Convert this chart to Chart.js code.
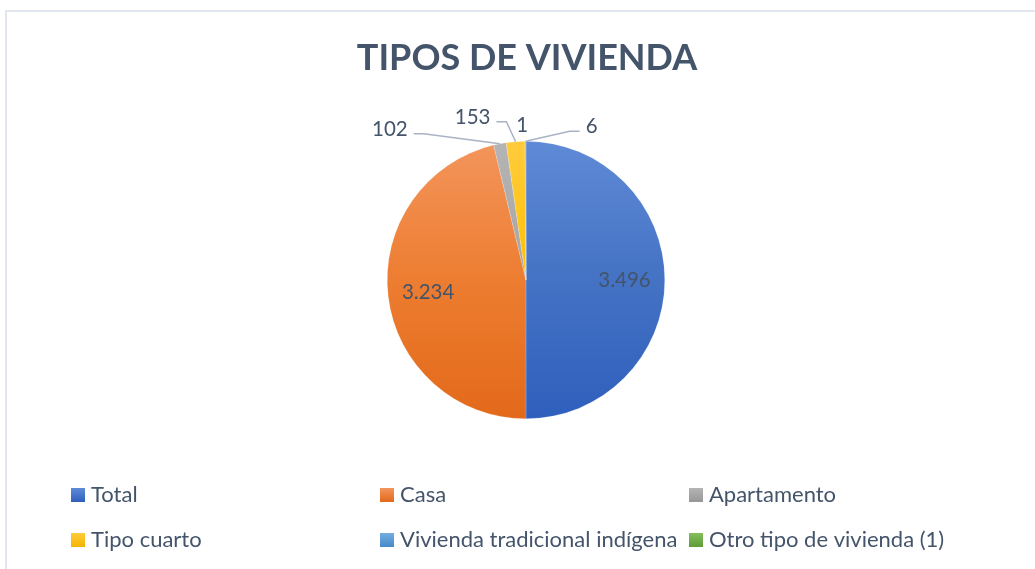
<!DOCTYPE html>
<html>
<head>
<meta charset="utf-8">
<script src="https://cdn.jsdelivr.net/npm/chart.js@4/dist/chart.umd.min.js"></script>
<style>
  html, body { margin: 0; background: #fff; }
  #wrap { position: relative; width: 1035px; height: 569px; }
</style>
</head>
<body>
<div id="wrap"><canvas id="chartPie"></canvas></div>
<script>
// datos
const categorias = ['Total', 'Casa', 'Apartamento', 'Tipo cuarto', 'Vivienda tradicional indígena', 'Otro tipo de vivienda (1)'];
const viviendas = [3496, 3234, 102, 153, 1, 6];
const etiquetas = ['3.496', '3.234', '102', '153', '1', '6'];

// estilos
const colorBase = ['#4472C4', '#ED7D31', '#A5A5A5', '#FFC000', '#5B9BD5', '#70AD47'];
const colorClaro = ['#5F8AD6', '#F3955C', '#B4B4B4', '#FFCB3D', '#74ADE0', '#84BE5E'];
const colorOscuro = ['#2F5FBD', '#E3691A', '#979797', '#F2B600', '#4589C9', '#5E9C37'];
const textColor = '#44546A';
const fuente = 'Lato, "Open Sans", sans-serif';

// posicion de etiquetas fuera del pastel (desplazamiento desde el borde)
const posEtiqueta = [
  null,
  null,
  { dx: -110, dy: -15, linea: true },
  { dx: -43, dy: -25, linea: true },
  { dx: -3, dy: -16, linea: false },
  { dx: 66, dy: -15, linea: true }
];

function gradiente(ctx, i) {
  const area = ctx.chart.chartArea;
  if (!area) return colorBase[i];
  const g = ctx.chart.ctx.createLinearGradient(0, area.top, 0, area.bottom);
  g.addColorStop(0, colorClaro[i]);
  g.addColorStop(0.5, colorBase[i]);
  g.addColorStop(1, colorOscuro[i]);
  return g;
}

const decoracion = {
  id: 'decoracion',
  beforeDraw(chart) {
    const c = chart.ctx;
    c.save();
    c.strokeStyle = '#E1E5EE';
    c.lineWidth = 2;
    c.beginPath();
    c.moveTo(6, 569);
    c.lineTo(6, 11);
    c.lineTo(1035, 11);
    c.stroke();
    c.restore();
  },
  afterDatasetsDraw(chart) {
    const c = chart.ctx;
    const meta = chart.getDatasetMeta(0);
    c.save();
    c.font = '20.5px ' + fuente;
    c.fillStyle = textColor;
    c.textAlign = 'center';
    c.textBaseline = 'alphabetic';
    meta.data.forEach((arc, i) => {
      const p = arc.getProps(['x', 'y', 'startAngle', 'endAngle', 'outerRadius'], true);
      const mid = (p.startAngle + p.endAngle) / 2;
      const cfg = posEtiqueta[i];
      if (!cfg) {
        const r = p.outerRadius * 0.71;
        c.fillText(etiquetas[i], p.x + Math.cos(mid) * r, p.y + Math.sin(mid) * r + 7);
        return;
      }
      const ax = p.x + Math.cos(mid) * p.outerRadius;
      const ay = p.y + Math.sin(mid) * p.outerRadius;
      const lx = ax + cfg.dx;
      const ly = ay + cfg.dy;
      c.fillText(etiquetas[i], lx, ly + 7);
      if (cfg.linea) {
        const w = c.measureText(etiquetas[i]).width;
        const dir = cfg.dx < 0 ? 1 : -1;
        const sx = lx + dir * (w / 2 + 6);
        const sy = ly + 5;
        c.save();
        c.strokeStyle = '#A9B3C4';
        c.lineWidth = 1.5;
        c.beginPath();
        c.moveTo(sx, sy);
        c.lineTo(sx + dir * 10, sy);
        c.lineTo(ax, ay);
        c.stroke();
        c.restore();
      }
    });
    c.restore();
  },
  afterDraw(chart) {
    const c = chart.ctx;
    c.save();
    // titulo
    c.fillStyle = textColor;
    c.font = 'bold 36px ' + fuente;
    c.textAlign = 'center';
    c.textBaseline = 'alphabetic';
    c.fillText('TIPOS DE VIVIENDA', 527, 70);
    // leyenda en 3 columnas
    c.font = '22px ' + fuente;
    c.textAlign = 'left';
    categorias.forEach((nombre, i) => {
      const x = 71 + (i % 3) * 309;
      const y = 488 + Math.floor(i / 3) * 45;
      const g = c.createLinearGradient(0, y, 0, y + 14);
      g.addColorStop(0, colorClaro[i]);
      g.addColorStop(1, colorOscuro[i]);
      c.fillStyle = g;
      c.fillRect(x, y, 14, 14);
      c.fillStyle = textColor;
      c.fillText(nombre, x + 20, y + 14);
    });
    c.restore();
  }
};

new Chart(document.getElementById('chartPie'), {
  type: 'pie',
  data: {
    labels: categorias,
    datasets: [{
      data: viviendas,
      backgroundColor: (ctx) => gradiente(ctx, ctx.dataIndex),
      borderColor: 'rgba(255,255,255,0.35)',
      borderWidth: 0.5
    }]
  },
  options: {
    responsive: true,
    maintainAspectRatio: false,
    animation: false,
    layout: { padding: { top: 141, bottom: 150, left: 387, right: 370 } },
    plugins: {
      legend: { display: false },
      title: { display: false },
      tooltip: { enabled: false }
    }
  },
  plugins: [decoracion]
});
</script>
</body>
</html>
